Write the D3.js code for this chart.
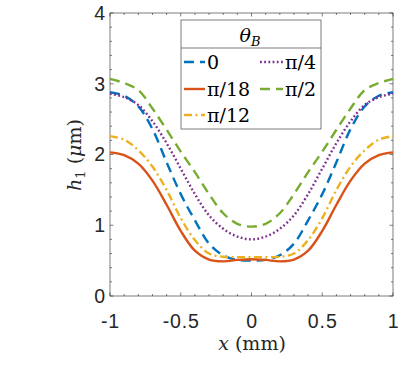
<!DOCTYPE html>
<html><head><meta charset="utf-8">
<script src="https://cdn.jsdelivr.net/npm/d3@7"></script>
<style>body{margin:0;background:#fff}</style>
</head><body>
<svg id="c" width="407" height="370"></svg>
<script>
const xs = [-1,-0.9,-0.8,-0.7,-0.6,-0.5,-0.4,-0.3,-0.2,-0.1,0,0.1,0.2,0.3,0.4,0.5,0.6,0.7,0.8,0.9,1];
const half0   = [2.88,2.83,2.68,2.36,1.89,1.44,1.07,0.74,0.575,0.51,0.50];
const half18  = [2.03,1.99,1.87,1.63,1.29,0.92,0.64,0.515,0.49,0.51,0.52];
const half12  = [2.26,2.21,2.06,1.83,1.50,1.10,0.79,0.60,0.555,0.55,0.55];
const half4   = [2.86,2.81,2.70,2.47,2.16,1.80,1.44,1.14,0.95,0.84,0.80];
const half2   = [3.07,3.01,2.91,2.65,2.35,2.04,1.75,1.44,1.17,1.02,0.98];
const mirror = a => a.concat(a.slice(0,-1).reverse());
const seriesNames = ["0","\u03c0/18","\u03c0/12","\u03c0/4","\u03c0/2"];
const seriesValues = [mirror(half0),mirror(half18),mirror(half12),mirror(half4),mirror(half2)];
const colors = ["#0072BD","#D95319","#EDB120","#7E2F8E","#77AC30"];
const dashes = ["10,6",null,"8,3.5,2,3.5","1.8,2.4","10,6"];
const xTicks = [-1,-0.5,0,0.5,1];
const xTickLabels = ["-1","-0.5","0","0.5","1"];
const yTicks = [0,1,2,3,4];

const svg = d3.select("#c");
const L=110, R=393, T=13, B=296;
const x = d3.scaleLinear().domain([-1,1]).range([L,R]);
const y = d3.scaleLinear().domain([0,4]).range([B,T]);
const axisCol = "#262626";
const sans = "Liberation Sans, Arial, sans-serif";
const serif = "DejaVu Serif, serif";

// ticks (major + minor), inward, on all four sides
const g = svg.append("g");
const xMinor = d3.range(-1,1.0001,0.1), yMinor = d3.range(0,4.0001,0.2);
xMinor.forEach(v=>{
  const major = xTicks.some(t=>Math.abs(t-v)<1e-6);
  const len = major?3.5:2;
  g.append("line").attr("x1",x(v)).attr("x2",x(v)).attr("y1",B).attr("y2",B-len).attr("stroke",axisCol).attr("stroke-width",0.6);
  g.append("line").attr("x1",x(v)).attr("x2",x(v)).attr("y1",T).attr("y2",T+len).attr("stroke",axisCol).attr("stroke-width",0.6);
});
yMinor.forEach(v=>{
  const major = yTicks.some(t=>Math.abs(t-v)<1e-6);
  const len = major?3.5:2;
  g.append("line").attr("y1",y(v)).attr("y2",y(v)).attr("x1",L).attr("x2",L+len).attr("stroke",axisCol).attr("stroke-width",0.6);
  g.append("line").attr("y1",y(v)).attr("y2",y(v)).attr("x1",R).attr("x2",R-len).attr("stroke",axisCol).attr("stroke-width",0.6);
});
svg.append("rect").attr("x",L).attr("y",T).attr("width",R-L).attr("height",B-T)
  .attr("fill","none").attr("stroke",axisCol).attr("stroke-width",0.6);

// tick labels
const xAxis = d3.axisBottom(x).tickValues(xTicks).tickFormat((d,i)=>xTickLabels[i]).tickSize(0).tickPadding(18);
const gx = svg.append("g").attr("transform",`translate(0,${B})`).call(xAxis);
const yAxis = d3.axisLeft(y).tickValues(yTicks).tickFormat(d3.format("d")).tickSize(0).tickPadding(5);
const gy = svg.append("g").attr("transform",`translate(${L},0)`).call(yAxis);
[gx,gy].forEach(a=>{a.select(".domain").remove();
  a.selectAll("text").attr("font-family",sans).attr("font-size",19.5).attr("fill",axisCol);});
gx.selectAll("text").attr("letter-spacing",0.9);

// lines
const line = d3.line().x((d,i)=>x(xs[i])).y(d=>y(d)).curve(d3.curveCatmullRom);
seriesValues.forEach((vals,k)=>{
  svg.append("path").attr("d",line(vals)).attr("fill","none").attr("stroke",colors[k])
    .attr("stroke-width",2.4).attr("stroke-dasharray",dashes[k]);
});

// axis labels
const xl = svg.append("text").attr("x",252).attr("y",350).attr("text-anchor","middle")
  .attr("font-family",serif).attr("font-size",19).attr("font-weight",300).attr("fill",axisCol);
xl.append("tspan").attr("font-style","italic").text("x");
xl.append("tspan").text(" (mm)");
const yl = svg.append("text").attr("transform","translate(81,155) rotate(-90)").attr("text-anchor","middle")
  .attr("font-family",serif).attr("font-size",19).attr("fill",axisCol);
yl.append("tspan").attr("font-style","italic").text("h");
yl.append("tspan").attr("font-size",13).attr("dy",4).text("1");
yl.append("tspan").attr("dy",-4).text(" (");
yl.append("tspan").attr("font-style","italic").text("\u03bc");
yl.append("tspan").text("m)");

// legend
const lg = svg.append("g");
lg.append("rect").attr("x",181).attr("y",20).attr("width",140).attr("height",109)
  .attr("fill","#fff").attr("stroke",axisCol).attr("stroke-width",0.6);
lg.append("line").attr("x1",181).attr("x2",321).attr("y1",48).attr("y2",48).attr("stroke",axisCol).attr("stroke-width",0.6);
const tt = lg.append("text").attr("x",250).attr("y",42).attr("text-anchor","middle")
  .attr("font-family",serif).attr("font-size",19).attr("fill","#000");
tt.append("tspan").attr("font-style","italic").text("\u03b8");
tt.append("tspan").attr("font-style","italic").attr("font-size",13).attr("dy",4).text("B");
const pos = [[0,0],[0,1],[0,2],[1,0],[1,1]];
const colX = [[184,205,207],[260,283,285]];
const rowY = [62,89,115];
seriesNames.forEach((n,k)=>{
  const [c,r] = pos[k];
  const yy = rowY[r];
  lg.append("line").attr("x1",colX[c][0]).attr("x2",colX[c][1]).attr("y1",yy).attr("y2",yy)
    .attr("stroke",colors[k]).attr("stroke-width",2.4).attr("stroke-dasharray",dashes[k]);
  lg.append("text").attr("x",colX[c][2]).attr("y",yy+7).attr("font-family",serif).attr("font-size",19)
    .attr("fill","#000").text(n);
});
</script>
</body></html>
